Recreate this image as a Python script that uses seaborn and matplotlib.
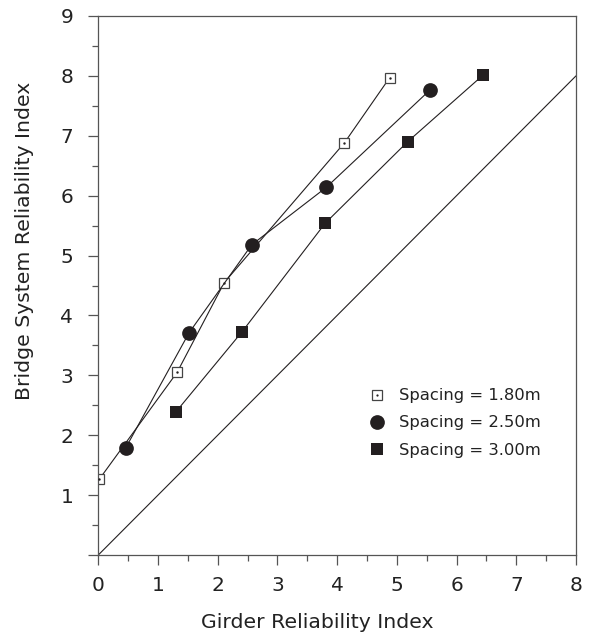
"""Girder vs bridge system reliability index for three girder spacings."""
import matplotlib.pyplot as plt
import pandas as pd
import seaborn as sns
from matplotlib.legend_handler import HandlerTuple
from matplotlib.lines import Line2D
from matplotlib.ticker import MultipleLocator

# values
girder_180 = [0.02, 1.32, 2.11, 4.12, 4.88]
system_180 = [1.27, 3.05, 4.55, 6.88, 7.97]
girder_250 = [0.46, 1.52, 2.57, 3.82, 5.55]
system_250 = [1.79, 3.71, 5.18, 6.14, 7.76]
girder_300 = [1.30, 2.41, 3.80, 5.18, 6.44]
system_300 = [2.39, 3.73, 5.54, 6.90, 8.01]
diag = [0, 8]
labels = ["Spacing = 1.80m", "Spacing = 2.50m", "Spacing = 3.00m"]

sns.set_theme(style="ticks")
plt.rcParams["font.family"] = ["DejaVu Sans"]

df = pd.concat([
    pd.DataFrame({"girder": girder_180, "system": system_180, "spacing": labels[0]}),
    pd.DataFrame({"girder": girder_250, "system": system_250, "spacing": labels[1]}),
    pd.DataFrame({"girder": girder_300, "system": system_300, "spacing": labels[2]}),
])

fig = plt.figure(figsize=(5.91, 6.37), dpi=100)
ax = fig.add_axes([0.1663, 0.1287, 0.8083, 0.8462])

ink = "#231f20"
styles = {
    labels[0]: dict(marker="s", ms=7.6, mfc="white", mec="#444444", mew=0.9),
    labels[1]: dict(marker="o", ms=10.6, mfc=ink, mec=ink, mew=0),
    labels[2]: dict(marker="s", ms=8.4, mfc=ink, mec=ink, mew=0),
}
handles = []
for lab in labels:
    sub = df[df["spacing"] == lab]
    sns.lineplot(data=sub, x="girder", y="system", sort=False, color=ink,
                 linewidth=0.8, ax=ax, zorder=2, **styles[lab])
    h = Line2D([], [], linestyle="none", **styles[lab])
    if lab == labels[0]:
        # tiny dot in the middle of the open squares
        sns.scatterplot(data=sub, x="girder", y="system", marker="o", s=3,
                        color=ink, linewidth=0, ax=ax, zorder=4)
        dot = Line2D([], [], linestyle="none", marker="o", ms=1.6, mfc=ink, mew=0)
        h = (h, dot)
    handles.append(h)

sns.lineplot(x=diag, y=diag, color=ink, linewidth=0.8, ax=ax, zorder=1)

ax.set_xlim(0, 8)
ax.set_ylim(0, 9)
ax.set_xticks(range(9))
ax.set_yticks(range(10))
ax.set_yticklabels([""] + [str(i) for i in range(1, 10)])
ax.xaxis.set_minor_locator(MultipleLocator(0.5))
ax.yaxis.set_minor_locator(MultipleLocator(0.5))
ax.tick_params(which="major", length=7, width=0.9, color="#555555",
               labelsize=14.5, labelcolor="#222222", pad=8)
ax.tick_params(axis="y", which="major", pad=11)
ax.tick_params(which="minor", length=4, width=0.9, color="#555555")
for sp in ax.spines.values():
    sp.set_color("#555555")
    sp.set_linewidth(0.9)

ax.set_xlabel("Girder Reliability Index", fontsize=14.7, color="#222222",
              labelpad=13, x=0.458)
ax.set_ylabel("Bridge System Reliability Index", fontsize=14.7, color="#222222",
              labelpad=19, y=0.583)

ax.legend(handles, labels, handler_map={tuple: HandlerTuple(ndivide=1, pad=0)},
          loc="center left", bbox_to_anchor=(0.552, 0.245), frameon=False,
          borderaxespad=0, fontsize=11.75, handlelength=1.05, handletextpad=0.8,
          labelspacing=0.75, labelcolor="#222222")

fig.savefig("out.png", dpi=100)
plt.close(fig)
